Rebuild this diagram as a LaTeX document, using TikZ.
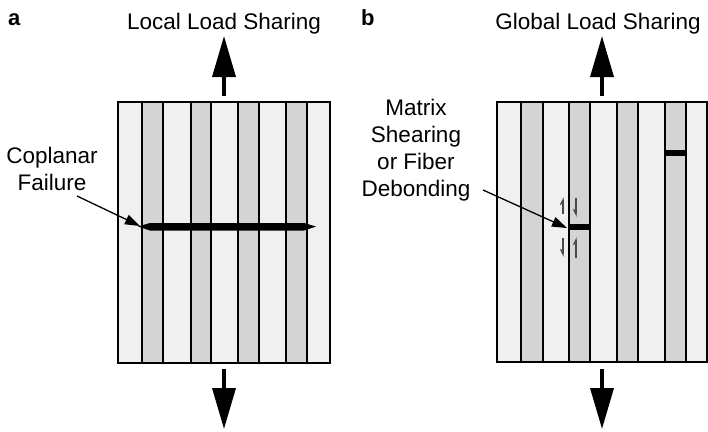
\documentclass[tikz,border=0pt]{standalone}
\usepackage{fontspec}
\setmainfont{Liberation Sans}
\usetikzlibrary{arrows.meta}

% light and dark fibre strips
\definecolor{stripL}{HTML}{F0F0F0}
\definecolor{stripD}{HTML}{D4D4D4}
\definecolor{shear}{HTML}{4A4A4A}

\tikzset{
  lbl/.style={font=\fontsize{22.5}{27}\selectfont, inner sep=0pt},
  paneltag/.style={font=\fontsize{22}{26}\selectfont\bfseries, inner sep=0pt, anchor=base west},
  loadarrow/.style={line width=3.6pt, -{Triangle[length=41pt, width=23pt]}},
  pointer/.style={line width=1.3pt, -{Triangle[length=15pt, width=10pt]}},
  fibreline/.style={line width=2pt},
  shearup/.style={shear, line width=1.3pt, -{Straight Barb[left, length=5pt, width=5pt]}},
  sheardown/.style={shear, line width=1.3pt, -{Straight Barb[right, length=5pt, width=5pt]}},
}

\begin{document}
\begin{tikzpicture}[x=1pt, y=-1pt]
\useasboundingbox (0,0) rectangle (708,431);

% ---------------- panel a: local load sharing ----------------
\foreach \xa/\xb/\c in {118/142/stripL, 142/163/stripD, 163/191/stripL, 191/211/stripD,
                        211/238/stripL, 238/259/stripD, 259/286/stripL, 286/307/stripD,
                        307/330/stripL}
  \fill[\c] (\xa,102) rectangle (\xb,363);
\foreach \x in {142,163,191,211,238,259,286,307}
  \draw[fibreline] (\x,102) -- (\x,363);
\draw[fibreline] (118,102) rectangle (330,363);

% coplanar crack across all fibres
\fill (138,226.5) -- (150,223) -- (304,223) -- (316,226.5) -- (304,230.5) -- (150,230.5) -- cycle;

\node[paneltag] (taga) at (8,25) {a};
\node[lbl, anchor=base] (loadA) at (224,29) {Local Load Sharing};
\coordinate (aTopS) at (224,96);
\coordinate (aTopT) at (224,36);
\coordinate (aBotS) at (224,369);
\coordinate (aBotT) at (224,429);
\draw[loadarrow] (aTopS) -- (aTopT);
\draw[loadarrow] (aBotS) -- (aBotT);

% base anchor of a multi-line node sits on its last line
\node[lbl, align=center, anchor=base] (cop) at (52,190) {Coplanar\\Failure};
\coordinate (copS) at (77,196);
\coordinate (copT) at (140,226);
\draw[pointer] (copS) -- (copT);

% ---------------- panel b: global load sharing ----------------
\foreach \xa/\xb/\c in {497/521/stripL, 521/543/stripD, 543/569/stripL, 569/590/stripD,
                        590/617/stripL, 617/638/stripD, 638/665/stripL, 665/686/stripD,
                        686/707/stripL}
  \fill[\c] (\xa,102) rectangle (\xb,362);
\foreach \x in {521,543,569,590,617,638,665,686}
  \draw[fibreline] (\x,102) -- (\x,362);
\draw[fibreline] (497,102) rectangle (707,362);

% isolated fibre breaks
\fill (569,224) rectangle (590,230);
\fill (665,150) rectangle (686,156);

\node[paneltag] (tagb) at (361,25) {b};
\node[lbl, anchor=base] (loadB) at (598,29) {Global Load Sharing};
\coordinate (bTopS) at (602,96);
\coordinate (bTopT) at (602,36);
\coordinate (bBotS) at (602,369);
\coordinate (bBotT) at (602,429);
\draw[loadarrow] (bTopS) -- (bTopT);
\draw[loadarrow] (bBotS) -- (bBotT);

\node[lbl, align=center, anchor=base] (deb) at (416,196) {Matrix\\Shearing\\or Fiber\\Debonding};
\coordinate (debS) at (483,190);
\coordinate (debT) at (567,228);
\draw[pointer] (debS) -- (debT);

% shear sense around the debond
\coordinate (s1a) at (563,214); \coordinate (s1b) at (563,197);
\coordinate (s2a) at (576,198); \coordinate (s2b) at (576,217);
\coordinate (s3a) at (563,238); \coordinate (s3b) at (563,257);
\coordinate (s4a) at (576,258); \coordinate (s4b) at (576,237);
\draw[shearup]   (s1a) -- (s1b);
\draw[sheardown] (s2a) -- (s2b);
\draw[sheardown] (s3a) -- (s3b);
\draw[shearup]   (s4a) -- (s4b);
\end{tikzpicture}
\end{document}
